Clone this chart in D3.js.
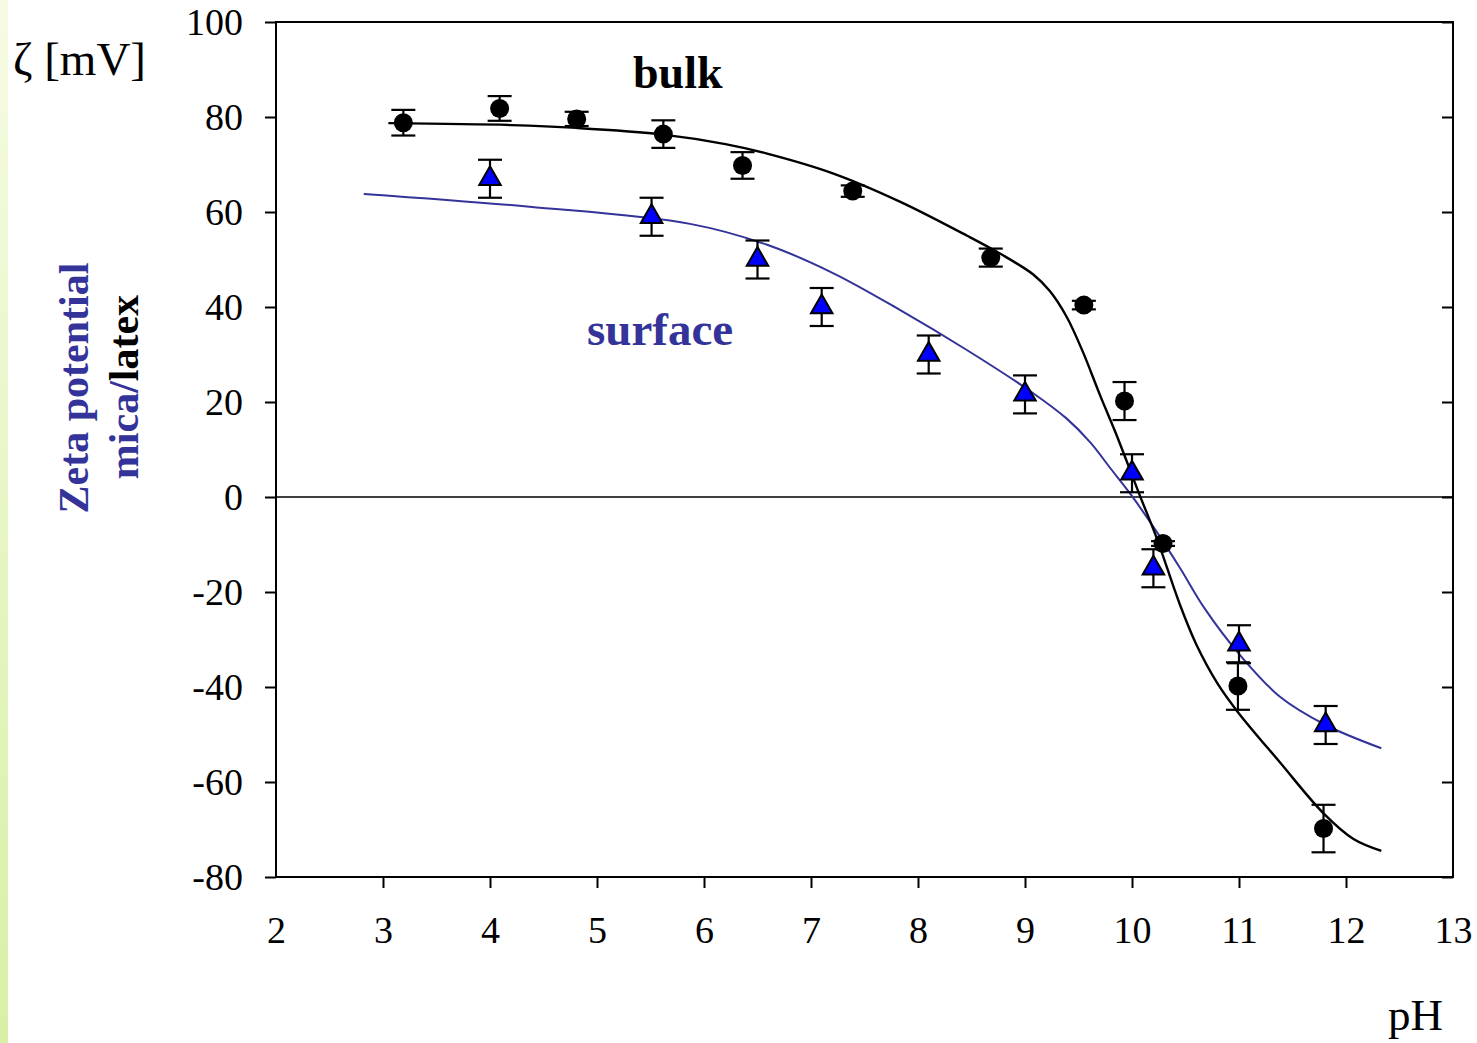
<!DOCTYPE html>
<html>
<head>
<meta charset="utf-8">
<script src="https://cdn.jsdelivr.net/npm/d3@7/dist/d3.min.js"></script>
<style>
  html, body { margin: 0; padding: 0; background: #ffffff; }
  svg { display: block; }
  text { font-family: "Liberation Serif", "Times New Roman", serif; }
</style>
</head>
<body>
<svg id="chart" width="1477" height="1043"></svg>
<script>
// Measured zeta potential of latex particles in bulk (circles)
const bulkPH   = [3.19, 4.09, 4.81, 5.62, 6.36, 7.39, 8.68, 9.55, 9.93, 10.29, 10.99, 11.79];
const bulkZeta = [78.8, 81.8, 79.6, 76.4, 69.8, 64.4, 50.4, 40.4, 20.2, -9.8, -39.8, -69.8];
const bulkErr  = [2.7, 2.6, 1.5, 2.9, 2.8, 1.2, 1.9, 0.9, 4.0, 0.5, 5.0, 5.0];

// Zeta potential of the mica surface (triangles)
const surfPH   = [4.0, 5.51, 6.5, 7.1, 8.1, 9.0, 10.0, 10.2, 11.0, 11.81];
const surfZeta = [67.0, 59.0, 50.0, 40.0, 30.0, 21.6, 5.0, -15.0, -31.0, -48.0];
const surfErr  = [4, 4, 4, 4, 4, 4, 4, 4, 4, 4];

// Fitted trend lines
const bulkFitPH   = [3.05, 4.2, 4.81, 5.62, 6.2, 6.59, 7.21, 7.83, 8.46, 8.77, 9.08, 9.23, 9.39, 9.54, 9.70, 9.86, 10.07, 10.23, 10.45, 10.6, 10.8, 10.99, 11.38, 11.79, 12.07, 12.33];
const bulkFitZeta = [78.7, 78.3, 77.7, 76.3, 74.3, 72.3, 68.1, 62.2, 55.0, 51.2, 46.8, 43.4, 37.9, 30.6, 21.5, 12.8, 0.5, -8.6, -22.8, -31.0, -39.3, -45.3, -55.8, -66.6, -72.0, -74.5];
const surfFitPH   = [2.82, 4.37, 5.87, 6.59, 7.21, 7.83, 8.46, 9.08, 9.39, 9.61, 9.80, 9.98, 10.2, 10.45, 10.68, 11.01, 11.38, 11.81, 12.33];
const surfFitZeta = [63.8, 61.1, 57.5, 53.1, 47.1, 39.4, 30.9, 21.8, 16.5, 11.5, 6.0, 0.8, -6.3, -15.0, -23.5, -33.3, -42.0, -48.0, -52.9];

// Axis ticks
const xTicks = [2, 3, 4, 5, 6, 7, 8, 9, 10, 11, 12, 13];
const yTicks = [100, 80, 60, 40, 20, 0, -20, -40, -60, -80];

const BLUE_TEXT = "#333399";

const svg = d3.select("#chart");

// Decorative strip on the left edge
const defs = svg.append("defs");
const grad = defs.append("linearGradient")
  .attr("id", "stripGrad").attr("x1", 0).attr("y1", 0).attr("x2", 0).attr("y2", 1);
grad.append("stop").attr("offset", "0%").attr("stop-color", "#f6fbe4");
grad.append("stop").attr("offset", "100%").attr("stop-color", "#d7f0a5");
svg.append("rect").attr("x", 0).attr("y", 0).attr("width", 8).attr("height", 1043)
  .attr("fill", "url(#stripGrad)");

const plotL = 276, plotR = 1453, plotT = 22, plotB = 877;
const x = d3.scaleLinear().domain([2, 13]).range([plotL, plotR]);
const y = d3.scaleLinear().domain([-80, 100]).range([plotB, plotT]);

// Left axis with outward ticks and labels
const gLeft = svg.append("g").attr("transform", `translate(${plotL},0)`)
  .call(d3.axisLeft(y).tickValues(yTicks).tickSize(11).tickSizeOuter(0).tickPadding(22)
    .tickFormat(d => String(d)));
gLeft.select(".domain").remove();
gLeft.selectAll(".tick line").attr("stroke", "#000").attr("stroke-width", 2);
gLeft.selectAll(".tick text").attr("font-size", 38).attr("fill", "#000")
  .attr("font-family", "Liberation Serif, serif").attr("dy", "0.34em");

// Right axis with inward ticks
const gRight = svg.append("g").attr("transform", `translate(${plotR},0)`)
  .call(d3.axisRight(y).tickValues(yTicks).tickSize(-11).tickSizeOuter(0).tickFormat(""));
gRight.select(".domain").remove();
gRight.selectAll(".tick line").attr("stroke", "#000").attr("stroke-width", 2);

// Bottom axis
const gBottom = svg.append("g").attr("transform", `translate(0,${plotB})`)
  .call(d3.axisBottom(x).tickValues(xTicks).tickSize(11).tickSizeOuter(0).tickPadding(28)
    .tickFormat(d => String(d)));
gBottom.select(".domain").remove();
gBottom.selectAll(".tick line").attr("stroke", "#000").attr("stroke-width", 2)
  .filter(d => d === 2 || d === 13).remove();
gBottom.selectAll(".tick text").attr("font-size", 38).attr("fill", "#000")
  .attr("font-family", "Liberation Serif, serif");

// Plot frame
svg.append("rect").attr("x", plotL).attr("y", plotT)
  .attr("width", plotR - plotL).attr("height", plotB - plotT)
  .attr("fill", "none").attr("stroke", "#000").attr("stroke-width", 2);

// Zero line
svg.append("line").attr("x1", plotL).attr("x2", plotR)
  .attr("y1", y(0)).attr("y2", y(0)).attr("stroke", "#000").attr("stroke-width", 1.6);

// Fit curves
const line = d3.line().x(d => x(d[0])).y(d => y(d[1])).curve(d3.curveCatmullRom.alpha(0.5));
svg.append("path").datum(surfFitPH.map((p, i) => [p, surfFitZeta[i]]))
  .attr("d", line).attr("fill", "none").attr("stroke", "#333399").attr("stroke-width", 2);
svg.append("path").datum(bulkFitPH.map((p, i) => [p, bulkFitZeta[i]]))
  .attr("d", line).attr("fill", "none").attr("stroke", "#000").attr("stroke-width", 2.4);

// Error bars
function errorBars(ph, z, err) {
  const g = svg.append("g").attr("stroke", "#000").attr("stroke-width", 2.2);
  const data = ph.map((p, i) => ({ p, z: z[i], e: err[i] }));
  g.selectAll(".whisker").data(data).join("line")
    .attr("x1", d => x(d.p)).attr("x2", d => x(d.p))
    .attr("y1", d => y(d.z + d.e)).attr("y2", d => y(d.z - d.e));
  g.selectAll(".capTop").data(data).join("line")
    .attr("x1", d => x(d.p) - 12).attr("x2", d => x(d.p) + 12)
    .attr("y1", d => y(d.z + d.e)).attr("y2", d => y(d.z + d.e));
  g.selectAll(".capBot").data(data).join("line")
    .attr("x1", d => x(d.p) - 12).attr("x2", d => x(d.p) + 12)
    .attr("y1", d => y(d.z - d.e)).attr("y2", d => y(d.z - d.e));
}
errorBars(surfPH, surfZeta, surfErr);
errorBars(bulkPH, bulkZeta, bulkErr);

// Markers: triangles for the surface, circles for the bulk
const tri = d3.symbol().type(d3.symbolTriangle).size(200);
svg.append("g").selectAll("path").data(surfPH.map((p, i) => [p, surfZeta[i]])).join("path")
  .attr("d", tri)
  .attr("transform", d => `translate(${x(d[0])},${y(d[1])})`)
  .attr("fill", "#0000ff").attr("stroke", "#000").attr("stroke-width", 2);

svg.append("g").selectAll("circle").data(bulkPH.map((p, i) => [p, bulkZeta[i]])).join("circle")
  .attr("cx", d => x(d[0])).attr("cy", d => y(d[1])).attr("r", 9.5)
  .attr("fill", "#000");

// Series labels
svg.append("text").attr("x", 633).attr("y", 88).attr("font-size", 46)
  .attr("font-weight", "bold").attr("fill", "#000").text("bulk");
svg.append("text").attr("x", 587).attr("y", 345).attr("font-size", 47)
  .attr("font-weight", "bold").attr("fill", BLUE_TEXT).text("surface");

// Axis titles
svg.append("text").attr("x", 13).attr("y", 75).attr("font-size", 47)
  .attr("fill", "#000").text("ζ [mV]");
svg.append("text").attr("x", 1388).attr("y", 1030).attr("font-size", 45)
  .attr("fill", "#000").text("pH");

svg.append("text").attr("transform", "translate(88,388) rotate(-90)")
  .attr("text-anchor", "middle").attr("font-size", 42).attr("font-weight", "bold")
  .attr("fill", BLUE_TEXT).text("Zeta potential");
const t2 = svg.append("text").attr("transform", "translate(138,387) rotate(-90)")
  .attr("text-anchor", "middle").attr("font-size", 42).attr("font-weight", "bold");
t2.append("tspan").attr("fill", BLUE_TEXT).text("mica/");
t2.append("tspan").attr("fill", "#000").text("latex");
</script>
</body>
</html>
